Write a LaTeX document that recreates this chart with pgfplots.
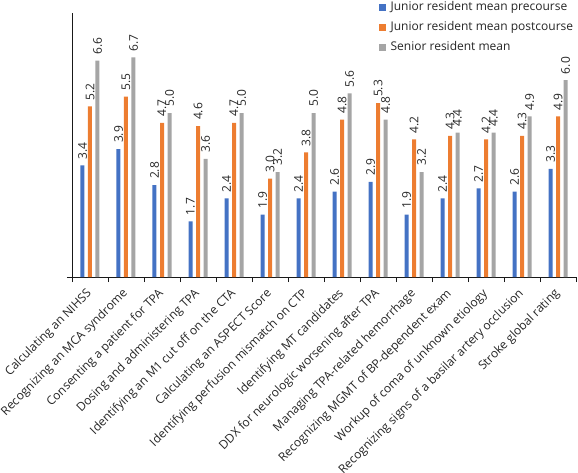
\documentclass[border=0pt,12pt]{standalone}
\usepackage{fontspec}
\setmainfont{Open Sans}
\usepackage{pgfplots}
\pgfplotsset{compat=1.18}
\usepackage{pgfplotstable}
\definecolor{cblue}{HTML}{4472C4}
\definecolor{corange}{HTML}{ED7D31}
\definecolor{cgray}{HTML}{A5A5A5}
\newcommand{\ffont}{\fontsize{12bp}{14bp}\selectfont}
\pgfplotstableread{
x pre post senior
0 3.4 5.2 6.6
1 3.9 5.5 6.7
2 2.8 4.7 5.0
3 1.7 4.6 3.6
4 2.4 4.7 5.0
5 1.9 3.0 3.2
6 2.4 3.8 5.0
7 2.6 4.8 5.6
8 2.9 5.3 4.8
9 1.9 4.2 3.2
10 2.4 4.3 4.4
11 2.7 4.2 4.4
12 2.6 4.3 4.9
13 3.3 4.9 6.0
}\datatable
\begin{document}
\ffont
\begin{tikzpicture}[font=\ffont]
\begin{axis}[
  name=ax,
  scale only axis, width=504bp, height=264bp,
  ybar=3.5bp, bar width=4bp,
  xmin=-0.5, xmax=13.5, ymin=0, ymax=8.05,
  axis lines*=left,
  axis line style={black!90, line width=0.9bp},
  xtick={-0.5,0.5,...,13.5}, xticklabels={},
  ytick={0}, yticklabels={},
  tick align=outside, major tick length=5bp,
  tick style={black!90, line width=0.9bp},
  extra x ticks={0,...,13},
  extra x tick labels={\ffont Calculating an NIHSS, \ffont Recognizing an MCA syndrome, \ffont Consenting a patient for TPA, \ffont Dosing and administering TPA, \ffont Identifying an M1 cut off on the CTA, \ffont Calculating an ASPECT Score, \ffont Identifying perfusion mismatch on CTP, \ffont Identifying MT candidates, \ffont DDX for neurologic worsening after TPA, \ffont Managing TPA-related hemorrhage, \ffont Recognizing MGMT of BP-dependent exam, \ffont Workup of coma of unknown etiology, \ffont Recognizing signs of a basilar artery occlusion, \ffont Stroke global rating},
  extra x tick style={major tick length=0pt, tick label style={xshift=2bp, yshift=-17bp, rotate=45, anchor=base east, inner sep=0pt, text=black!85}},
  nodes near coords={\ffont\pgfmathprintnumber[fixed, zerofill, precision=1, assume math mode=true]{\pgfplotspointmeta}},
  every node near coord/.append style={rotate=90, anchor=west, inner sep=6bp, text=black!85},
  legend style={at={(rel axis cs:0.609,1.045)}, anchor=north west, draw=none, fill=none, inner sep=0pt, row sep=8bp,
    nodes={inner sep=0pt, text height=9bp, text depth=3bp, text=black!85, anchor=west}, column sep=5bp},
  legend cell align=left,
  legend image code/.code={\fill[#1] (0bp,-3.2bp) rectangle (6.5bp,3.2bp);},
]
\addplot[fill=cblue, draw=none] table[x=x, y=pre] {\datatable};
\addplot[fill=corange, draw=none] table[x=x, y=post] {\datatable};
\addplot[fill=cgray, draw=none] table[x=x, y=senior] {\datatable};
\legend{\ffont Junior resident mean precourse, \ffont Junior resident mean postcourse, \ffont Senior resident mean}
\end{axis}
\pgfresetboundingbox
\path[use as bounding box] ([shift={(-72bp,-196bp)}]ax.south west) rectangle ([shift={(2bp,277bp)}]ax.south east);
\end{tikzpicture}
\end{document}
